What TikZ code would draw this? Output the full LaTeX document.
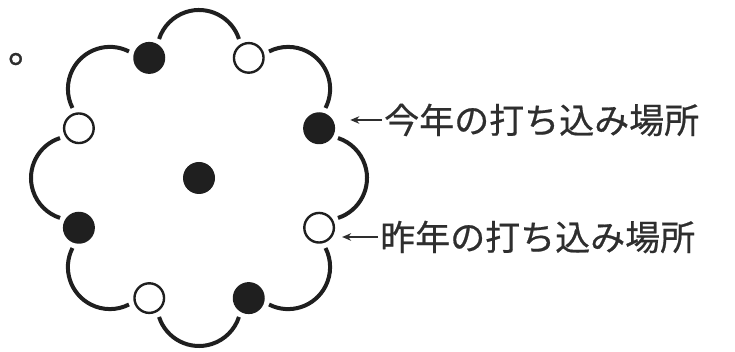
\documentclass[tikz,border=0pt]{standalone}
\usepackage{fontspec}
\newfontfamily\jp[FakeBold=0.6]{Noto Sans CJK JP}
\usetikzlibrary{arrows.meta}
\definecolor{ink}{gray}{0.12}
\definecolor{txt}{gray}{0.18}
\begin{document}
\begin{tikzpicture}[x=1pt,y=1pt,
  lobe/.style={line width=4pt, draw=ink},
  fulldot/.style={circle, fill=ink, minimum size=32pt, inner sep=0pt},
  opendot/.style={circle, draw=ink, line width=2.4pt, fill=white, minimum size=29.6pt, inner sep=0pt},
  lbl/.style={font=\jp\fontsize{35}{35}\selectfont, text=txt, inner sep=0pt, anchor=west},
  pointer/.style={-{Stealth[length=9pt,width=7.5pt]}, line width=1.6pt, draw=txt}]
\useasboundingbox (0,0) rectangle (735,352);
\coordinate (c) at (199,174);
% scalloped outline
\foreach \a [evaluate=\a as \s using \a-72, evaluate=\a as \e using \a+72] in {0,45,...,315}
  \draw[lobe, shift={(c)}, shift={(\a:126)}] (\s:42) arc[start angle=\s, end angle=\e, radius=42];
% dots
\foreach \i/\a/\st in {1/22.5/fulldot, 2/67.5/opendot, 3/112.5/fulldot, 4/157.5/opendot,
                       5/202.5/fulldot, 6/247.5/opendot, 7/292.5/fulldot, 8/337.5/opendot}
  \node[\st] (d\i) at ([shift={(\a:130)}]c) {};
\node[fulldot] (d0) at (c) {};
% labels
\node[lbl] (now) at (384,232) {今年の打ち込み場所};
\node[lbl] (prev) at (380,115) {昨年の打ち込み場所};
\draw[pointer, shorten >=15pt] ([xshift=-2pt]now.west) -- (now.west -| d1.east);
\draw[pointer, shorten >=7pt] ([xshift=-2pt]prev.west) -- (prev.west -| d8.east);
% fragment at top left
\node[font=\jp\fontsize{40}{40}\selectfont, text=txt, inner sep=0pt, anchor=base west] (mark) at (7.8,289.3) {。};
\end{tikzpicture}
\end{document}
